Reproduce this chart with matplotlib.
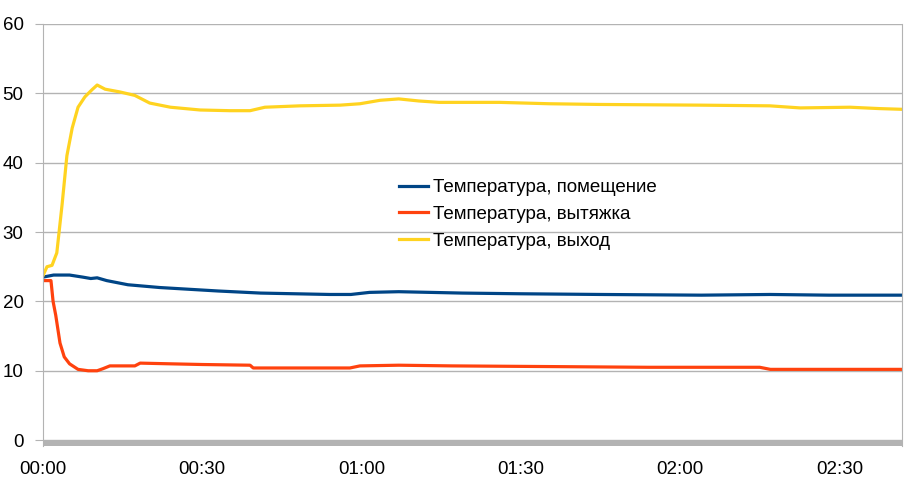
import matplotlib.pyplot as plt
from matplotlib.ticker import FixedLocator

# time in minutes from start
t_room = [0, 2, 5, 7.5, 9, 10.2, 12, 16, 22, 33, 41, 54, 58, 61.5, 67, 79, 90, 105, 124, 137, 148, 161.8]
room = [23.5, 23.8, 23.8, 23.5, 23.3, 23.4, 23.0, 22.4, 22.0, 21.5, 21.2, 21.0, 21.0, 21.3, 21.4, 21.2, 21.1, 21.0, 20.9, 21.0, 20.9, 20.9]

t_hood = [0, 1.5, 1.9, 2.4, 3.2, 4.0, 5.0, 6.6, 8.5, 10.2, 11.3, 12.6, 17.3, 18.3, 24, 30, 39, 39.6, 57.8, 59.7, 67, 77, 96, 114, 135, 137, 161.8]
hood = [23.0, 23.0, 20.0, 18.0, 14.0, 12.0, 11.0, 10.2, 10.0, 10.0, 10.3, 10.7, 10.7, 11.1, 11.0, 10.9, 10.8, 10.4, 10.4, 10.7, 10.8, 10.7, 10.6, 10.5, 10.5, 10.2, 10.2]

t_out = [0, 0.75, 1.7, 2.6, 3.6, 4.5, 5.5, 6.6, 7.9, 9.2, 10.2, 11.7, 14.5, 17.3, 20.1, 24, 29.6, 35.2, 39, 41.8, 48.4, 56, 59.7, 63.5, 67, 70.8, 74.6, 86, 95.4, 104.8, 123.7, 136.9, 142.6, 152, 157.6, 161.8]
out = [23.7, 25.0, 25.2, 27.0, 34.0, 41.0, 45.0, 48.0, 49.5, 50.5, 51.2, 50.6, 50.2, 49.7, 48.6, 48.0, 47.6, 47.5, 47.5, 48.0, 48.2, 48.3, 48.5, 49.0, 49.2, 48.9, 48.7, 48.7, 48.5, 48.4, 48.3, 48.2, 47.9, 48.0, 47.8, 47.7]

labels = ["Температура, помещение", "Температура, вытяжка", "Температура, выход"]
colors = ["#004586", "#ff420e", "#ffd320"]

x_ticks = [0, 30, 60, 90, 120, 150]
x_labels = ["00:00", "00:30", "01:00", "01:30", "02:00", "02:30"]
y_ticks = [0, 10, 20, 30, 40, 50, 60]

plt.rcParams["font.family"] = ["Liberation Sans", "DejaVu Sans"]

fig = plt.figure(figsize=(9.13, 4.99), dpi=100)
ax = fig.add_axes([43 / 913, 1 - 446 / 499, (902 - 43) / 913, (446 - 24) / 499])

grid_c = "#b3b3b3"
ax.plot(t_room, room, color=colors[0], lw=2.3, label=labels[0])
ax.plot(t_hood, hood, color=colors[1], lw=2.3, label=labels[1])
ax.plot(t_out, out, color=colors[2], lw=2.3, label=labels[2])

ax.set_xlim(0, 161.8)
ax.set_ylim(-0.85, 60)
ax.axhspan(-0.85, 0, color=grid_c, lw=0, zorder=3)

ax.yaxis.set_major_locator(FixedLocator(y_ticks))
ax.set_yticklabels([str(v) for v in y_ticks])
ax.set_xticks(x_ticks)
ax.set_xticklabels(x_labels)
ax.grid(axis="y", color=grid_c, lw=1)
ax.set_axisbelow(True)

for side in ["left", "right"]:
    ax.spines[side].set_color(grid_c)
ax.spines["top"].set_visible(False)
ax.spines["bottom"].set_visible(False)

ax.tick_params(axis="y", length=6, color=grid_c, labelsize=13.5, pad=8)
ax.tick_params(axis="x", length=0, labelsize=13.5, pad=11)

ax.legend(loc="upper left", bbox_to_anchor=(390 / 913, 1 - 170 / 499),
          bbox_transform=fig.transFigure, frameon=False, fontsize=13.5,
          handlelength=1.5, handletextpad=0.3, labelspacing=0.5, borderpad=0)

fig.savefig("out.png", dpi=100)
